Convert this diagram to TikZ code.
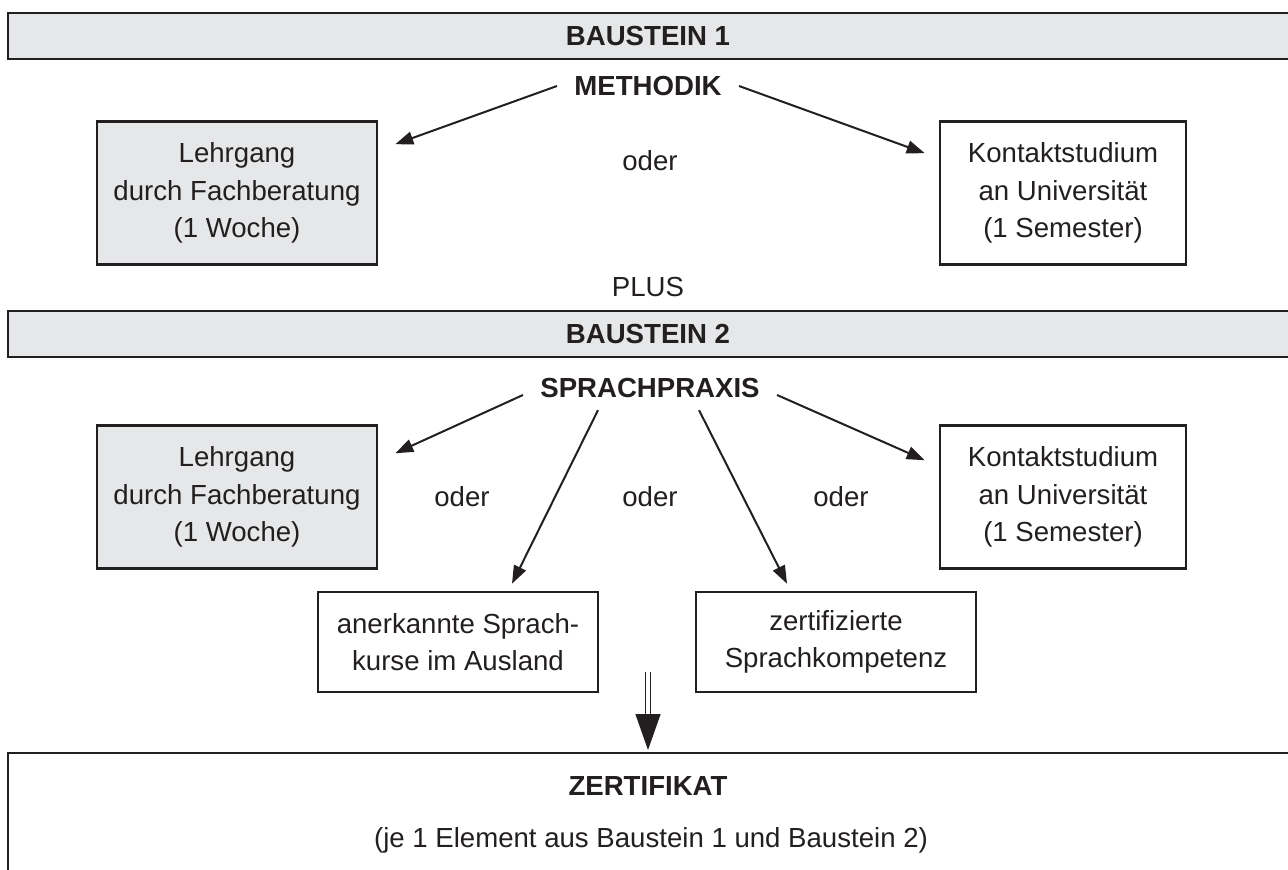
\documentclass[tikz,border=0pt]{standalone}
\usepackage{fontspec}
\setmainfont{Liberation Sans}
\usetikzlibrary{arrows.meta}

\definecolor{boxgray}{HTML}{E6E7E8}
\definecolor{ink}{HTML}{231F20}

\tikzstyle{txt}=[font=\fontsize{13.8}{18.7}\selectfont, text=ink, align=center, inner sep=0pt]
\tikzstyle{head}=[txt, font=\fontsize{13.8}{18.7}\selectfont\bfseries, inner xsep=8.5pt, inner ysep=6pt]
\tikzstyle{course}=[txt, draw=ink, line width=1.3pt, rectangle, minimum height=71.5pt]
\tikzstyle{shaded}=[course, fill=boxgray, minimum width=140pt]
\tikzstyle{plain}=[course, fill=white, minimum width=123pt]
\tikzstyle{abroad}=[course, fill=white, minimum width=140pt, minimum height=50pt]
\tikzstyle{band}=[draw=ink, line width=1.3pt]
\tikzstyle{arr}=[draw=ink, line width=1pt]

\begin{document}
\begin{tikzpicture}[x=0.5pt, y=-0.5pt]
			\useasboundingbox (0,0) rectangle (1288,870);
			\clip (0,0) rectangle (1288,870);
			\begin{scope}[>={Triangle[length=9pt,width=6.5pt]}]
				% the two grey bands
				\foreach \nr/\by in {1/13, 2/311}{
					\draw[band, fill=boxgray] (8,\by) rectangle (1320,\by+46);
					\node[head] (B\nr) at (648,\by+23) {BAUSTEIN \nr};
				}
				
				% Baustein 1
				\node[head] (M) at (648,86) {METHODIK};
				\node[shaded] (L1) at (237,193) {Lehrgang\\durch Fachberatung\\(1 Woche)};
				\node[plain] (K1) at (1063,193) {Kontaktstudium\\an Universität\\(1 Semester)};
				\node[txt] (O1) at (650,161) {oder};
				\draw[->,arr] (M.west) -- ([shift={(17,24)}]L1.north east);
				\draw[->,arr] (M.east) -- ([shift={(-14,33)}]K1.north west);
				
				\node[txt] (P) at (648,287) {PLUS};
				
				% Baustein 2
				\node[head] (S) at (650,388) {SPRACHPRAXIS};
				\node[shaded] (L2) at (237,497) {Lehrgang\\durch Fachberatung\\(1 Woche)};
				\node[plain] (K2) at (1063,497) {Kontaktstudium\\an Universität\\(1 Semester)};
				\foreach \nr/\x in {1/462, 2/650, 3/841}
					\node[txt] (O2\nr) at (\x,497) {oder};
				\node[abroad] (A) at (458,642) {anerkannte Sprach-\\kurse im Ausland};
				\node[abroad] (Z) at (836,642) {zertifizierte\\Sprachkompetenz};
				\draw[->,arr] ([shift={(0,7)}]S.west) -- ([shift={(17,29)}]L2.north east);
				\draw[->,arr] ([shift={(0,7)}]S.east) -- ([shift={(-14,36)}]K2.north west);
				\draw[->,arr] ([shift={(-52,0)}]S.south) -- ([shift={(54,-7)}]A.north);
				\draw[->,arr] ([shift={(49,0)}]S.south) -- ([shift={(-49,-7)}]Z.north);
				
				% Zertifikat
				\draw[band, fill=white] (8,753) rectangle (1320,900);
				\node[head] (Zt) at (648,786) {ZERTIFIKAT};
				\node[txt] (Zs) at (651,840) {(je 1 Element aus Baustein 1 und Baustein 2)};
				\coordinate (D) at (648,672);
				\coordinate (Dend) at (648,750);
				\draw[draw=ink, line width=0.7pt, double=white, double distance=1.8pt,
					-{Triangle[length=18pt,width=12.5pt]}] (D) -- (Dend);
			\end{scope}
		\end{tikzpicture}
\end{document}
